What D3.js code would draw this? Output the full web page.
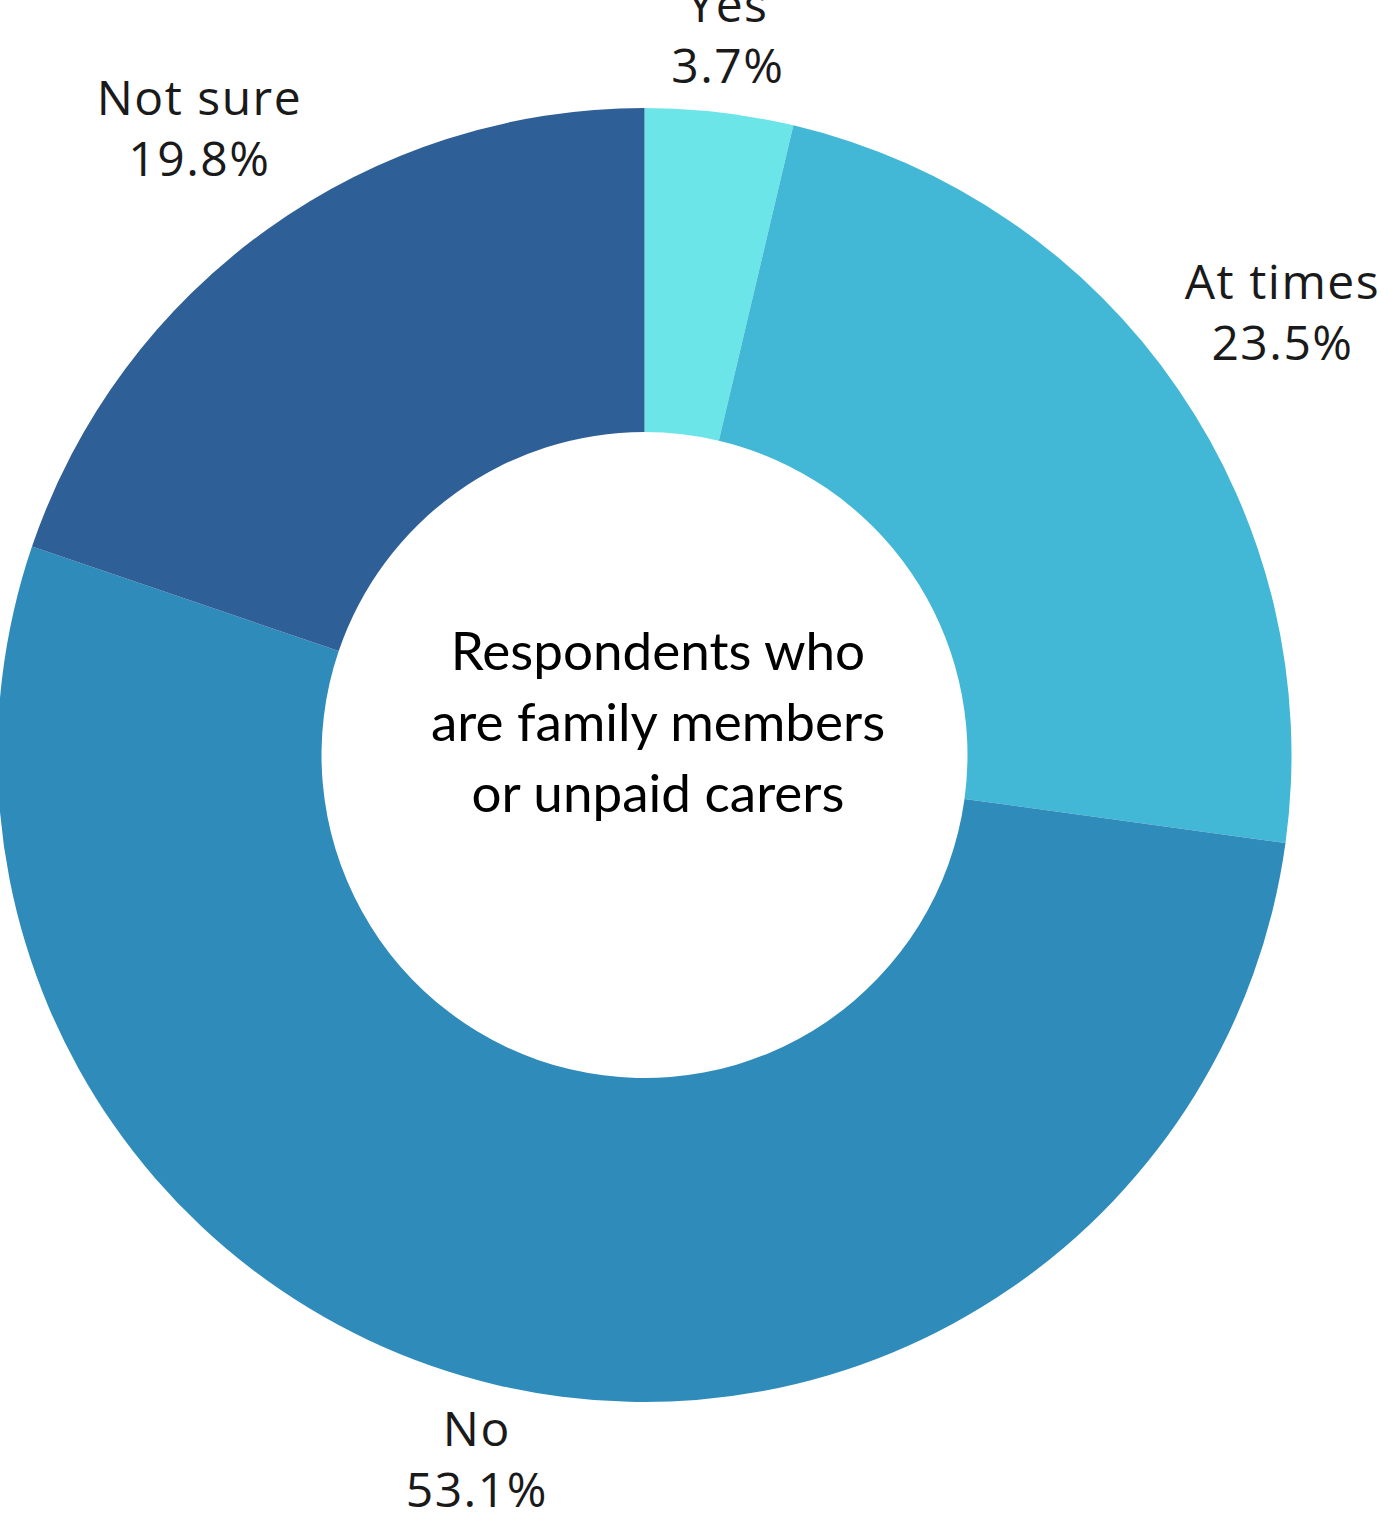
<!DOCTYPE html>
<html>
<head>
<meta charset="utf-8">
<script src="https://cdn.jsdelivr.net/npm/d3@7"></script>
<style>
  html, body { margin: 0; padding: 0; background: #ffffff; }
  svg { display: block; }
</style>
</head>
<body>
<svg id="chart" width="1399" height="1513"></svg>
<script>
// Survey answers and their shares (%)
const categories = ["Yes", "At times", "No", "Not sure"];
const values = [3.7, 23.5, 53.1, 19.8];
const colors = ["#6ce5e8", "#43b7d6", "#2e8bba", "#2f5f97"];
const centerLines = ["Respondents who", "are family members", "or unpaid carers"];

const width = 1399, height = 1513;
const cx = 644.5, cy = 755;
const outerR = 647, innerR = 323;
const labelGap = 666;
const labelLift = 5;
const labelFont = "'Open Sans', 'Noto Sans', sans-serif";
const labelSize = 48;
const lineGap = 61;

const svg = d3.select("#chart");
const g = svg.append("g").attr("transform", `translate(${cx},${cy})`);

const data = categories.map((c, i) => ({ name: c, value: values[i], color: colors[i] }));

const pie = d3.pie().value(d => d.value).sort(null);
const arc = d3.arc().innerRadius(innerR).outerRadius(outerR);
const arcs = pie(data);

g.selectAll("path.slice")
  .data(arcs)
  .join("path")
  .attr("class", "slice")
  .attr("d", arc)
  .attr("fill", d => d.data.color);

// Outside labels: name on top, percentage below, box pushed clear of the ring
const labels = g.selectAll("g.label")
  .data(arcs)
  .join("g")
  .attr("class", "label");

labels.each(function(d) {
  const sel = d3.select(this);
  const t = sel.append("text")
    .attr("text-anchor", "middle")
    .attr("font-family", labelFont)
    .attr("font-size", labelSize)
    .attr("letter-spacing", "1.5px")
    .attr("fill", "#1a1a1a");
  t.append("tspan").attr("x", 0).attr("y", 0).text(d.data.name);
  t.append("tspan").attr("x", 0).attr("y", lineGap).text(d3.format(".1f")(d.data.value) + "%");
  const bb = t.node().getBBox();
  const capH = labelSize * 0.714;
  const boxH = lineGap + capH;
  const a = (d.startAngle + d.endAngle) / 2;
  const s = Math.sin(a), c = Math.cos(a);
  const r = labelGap + (bb.width / 2) * Math.abs(s) + (boxH / 2) * Math.abs(c);
  const px = r * s, py = -r * c;
  // first baseline placed so the block (cap top .. last baseline) is centred at py
  sel.attr("transform", `translate(${px},${py - boxH / 2 + capH - labelLift})`);
});

// Centre caption
const ct = svg.append("text")
  .attr("text-anchor", "middle")
  .attr("font-family", "Lato, 'Noto Sans', sans-serif")
  .attr("font-size", 53)
  .attr("fill", "#000000");
centerLines.forEach((line, i) => {
  ct.append("tspan").attr("x", 658).attr("y", 670 + i * 71).text(line);
});
</script>
</body>
</html>
